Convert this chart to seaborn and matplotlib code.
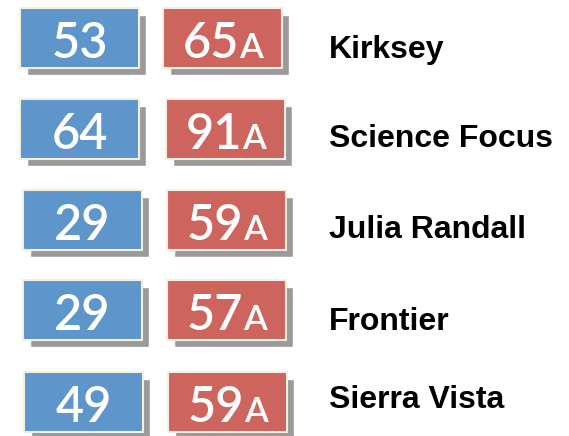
import matplotlib
matplotlib.use("Agg")
import matplotlib.pyplot as plt
import seaborn as sns

# school tiles: left number, right score + grade, name
schools = ['Kirksey', 'Science Focus', 'Julia Randall', 'Frontier', 'Sierra Vista']
left_vals = [53, 64, 29, 29, 49]
scores = [65, 91, 59, 57, 59]
grades = ['A', 'A', 'A', 'A', 'A']

# layout (pixels) - tiles are a bit hand placed in the original
row_top = [8, 99, 190, 280, 372]
blue_left = [20, 20, 23, 23, 24]
red_left = [163, 166, 167, 167, 168]
label_base = [58, 147, 238, 330, 408]
box_w, box_h = 119, 60
shadow = 7

blue = '#5e95ca'
red = '#cd645e'
edge = '#f3f0e2'
shade = '#9a9a9a'

sns.set_style('white')
fig = plt.figure(figsize=(5.69, 4.36), dpi=100)
ax = fig.add_axes([0, 0, 1, 1])
ax.set_xlim(0, 569)
ax.set_ylim(436, 0)
ax.axis('off')

for i in range(len(schools)):
    for left, col in [(blue_left[i], blue), (red_left[i], red)]:
        ax.bar(left + shadow, box_h, width=box_w, bottom=row_top[i] + shadow,
               align='edge', color=shade, zorder=1)
        ax.bar(left, box_h, width=box_w, bottom=row_top[i], align='edge',
               color=col, edgecolor=edge, linewidth=1.5, zorder=2)

fig.canvas.draw()
rend = fig.canvas.get_renderer()

for i, name in enumerate(schools):
    base = row_top[i] + 50
    ax.text(blue_left[i] + box_w / 2, base, str(left_vals[i]), color='white',
            family='Lato', fontweight='semibold', fontsize=35, ha='center',
            va='baseline', zorder=3)
    # score in big digits, grade letter smaller, centred together
    t1 = ax.text(0, base, str(scores[i]), color='white', family='Lato',
                 fontweight='semibold', fontsize=35, ha='left', va='baseline',
                 zorder=3)
    t2 = ax.text(0, base, grades[i], color='white', family='Lato',
                 fontweight='semibold', fontsize=25, ha='left', va='baseline',
                 zorder=3)
    w1 = t1.get_window_extent(rend).width
    w2 = t2.get_window_extent(rend).width
    start = red_left[i] + box_w / 2 - (w1 + w2) / 2
    t1.set_x(start)
    t2.set_x(start + w1)
    ax.text(329, label_base[i], name, color='black', family='Liberation Sans',
            fontweight='bold', fontsize=23, ha='left', va='baseline')

fig.savefig('out.png', dpi=100, facecolor='white')
